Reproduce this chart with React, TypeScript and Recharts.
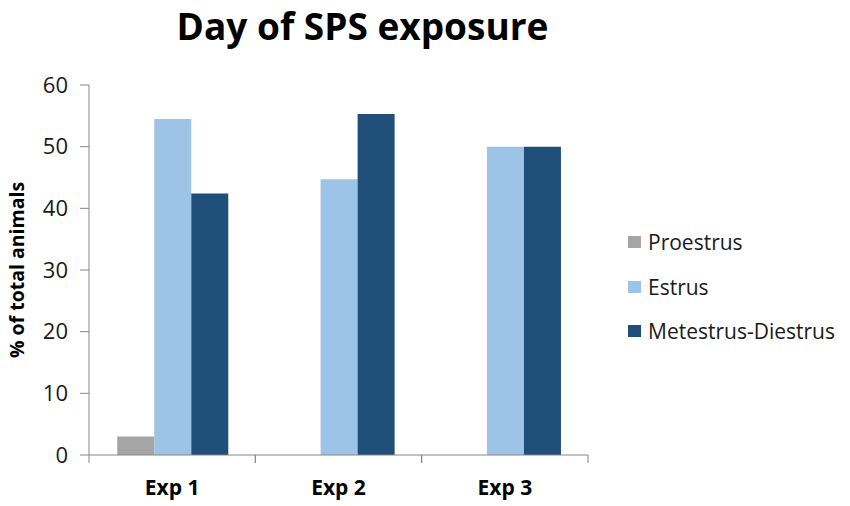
import React from "react";
import { BarChart, Bar, XAxis, YAxis, Legend } from "recharts";

const categories = ["Exp 1", "Exp 2", "Exp 3"];
const proestrus = [3.0, 0, 0];
const estrus = [54.5, 44.7, 50];
const metestrusDiestrus = [42.4, 55.3, 50];
const yTicks = [0, 10, 20, 30, 40, 50, 60];

const series = [
  { key: "proestrus", name: "Proestrus", color: "#A5A5A5" },
  { key: "estrus", name: "Estrus", color: "#9DC3E6" },
  { key: "metestrus", name: "Metestrus-Diestrus", color: "#1F4E79" },
];

const data = categories.map((name, i) => ({
  name,
  proestrus: proestrus[i],
  estrus: estrus[i],
  metestrus: metestrusDiestrus[i],
}));

const FONT = "'Open Sans', sans-serif";
const AXIS = "#868686";

// category ticks sit on the band edges, like Excel
const CategoryTick = (props: any) => {
  const { x, y, payload } = props;
  const half = payload.offset || 0;
  return (
    <g>
      <line x1={x - half} x2={x - half} y1={y - 8} y2={y} stroke={AXIS} />
      <line x1={x + half} x2={x + half} y1={y - 8} y2={y} stroke={AXIS} />
      <text
        x={x}
        y={y + 32}
        textAnchor="middle"
        fontFamily={FONT}
        fontWeight={700}
        fontSize={21}
        fill="#000"
      >
        {payload.value}
      </text>
    </g>
  );
};

const LegendBox = () => (
  <div style={{ fontFamily: FONT, fontSize: 21, color: "#1a1a1a" }}>
    {series.map((s) => (
      <div
        key={s.key}
        style={{ height: 44.5, display: "flex", alignItems: "center" }}
      >
        <span
          style={{
            width: 13,
            height: 12,
            background: s.color,
            display: "inline-block",
            marginRight: 7,
          }}
        />
        <span>{s.name}</span>
      </div>
    ))}
  </div>
);

export default function App() {
  return (
    <div
      style={{
        position: "absolute",
        left: 0,
        top: 0,
        width: 850,
        height: 506,
        background: "#fff",
      }}
    >
      <div
        style={{
          position: "absolute",
          left: 0,
          top: 0,
          width: 725,
          textAlign: "center",
          fontFamily: FONT,
          fontWeight: 700,
          fontSize: 37,
          lineHeight: "52px",
          color: "#000",
        }}
      >
        Day of SPS exposure
      </div>
      <BarChart
        width={850}
        height={506}
        data={data}
        margin={{ top: 85, right: 262, bottom: 0, left: 0 }}
        barCategoryGap="17%"
        barGap={0}
      >
        <XAxis
          dataKey="name"
          height={51}
          axisLine={{ stroke: AXIS }}
          tickLine={false}
          tick={<CategoryTick />}
          interval={0}
        />
        <YAxis
          width={89}
          domain={[0, 60]}
          ticks={yTicks}
          interval={0}
          axisLine={{ stroke: AXIS }}
          tickLine={{ stroke: AXIS }}
          tickSize={9}
          tickMargin={12}
          tick={{ fill: "#1a1a1a", fontSize: 22, fontFamily: FONT }}
          label={{
            content: (p: any) => {
              const vb = p.viewBox || { y: 85, height: 370 };
              const cy = vb.y + vb.height / 2;
              return (
                <text
                  x={0}
                  y={0}
                  transform={`translate(24, ${cy}) rotate(-90)`}
                  textAnchor="middle"
                  fontFamily={FONT}
                  fontWeight={700}
                  fontSize={19.5}
                  fill="#000"
                >
                  % of total animals
                </text>
              );
            },
          }}
        />
        <Legend
          layout="horizontal"
          verticalAlign="middle"
          align="center"
          content={<LegendBox />}
          wrapperStyle={{ left: 628, top: 220, width: 222 }}
        />
        {series.map((s) => (
          <Bar
            key={s.key}
            dataKey={s.key}
            name={s.name}
            fill={s.color}
            isAnimationActive={false}
          />
        ))}
      </BarChart>
    </div>
  );
}
